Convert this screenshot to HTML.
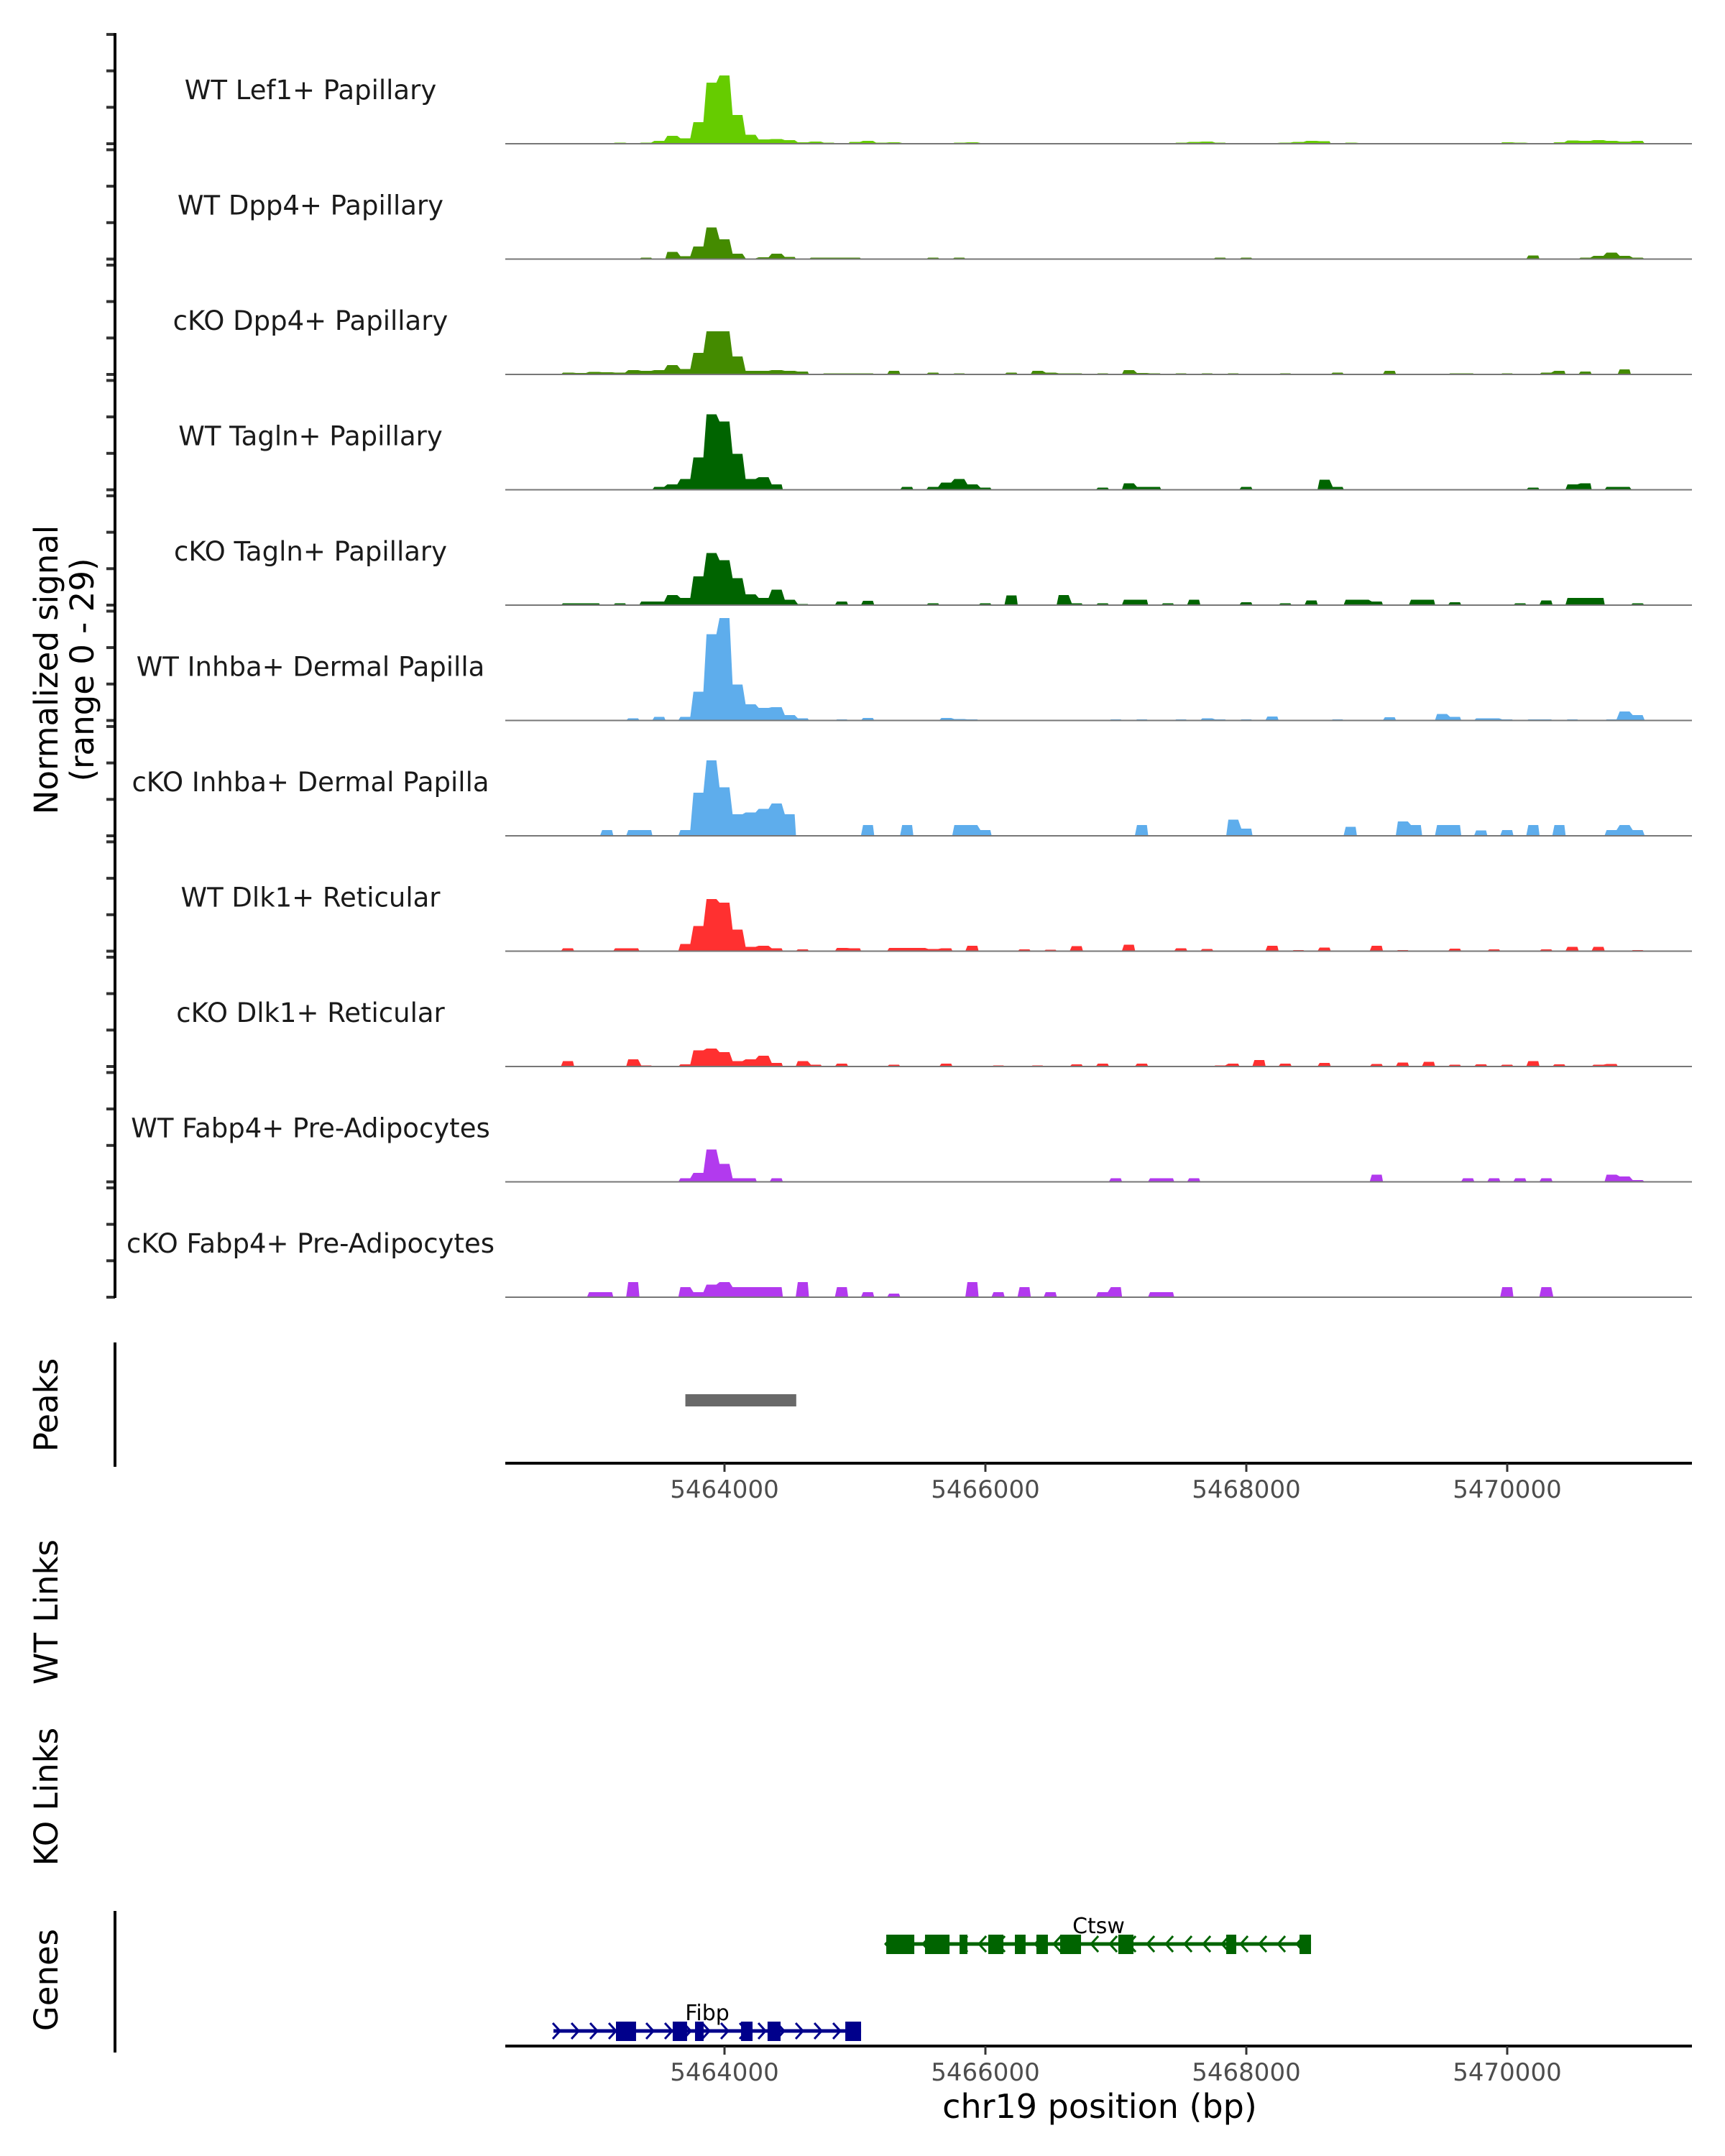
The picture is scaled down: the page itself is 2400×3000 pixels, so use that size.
<!DOCTYPE html>
<html><head><meta charset="utf-8"><style>
html,body{margin:0;padding:0;background:#fff}
svg{display:block}
text{font-family:"DejaVu Sans","Liberation Sans",sans-serif}
</style></head><body>
<svg id="chart" width="2400" height="3000" viewBox="0 0 2400 3000" xmlns="http://www.w3.org/2000/svg">
<g id="tracks"></g>
<g id="axes"></g>
<g id="genes"></g>
</svg>
<script>
const trackNames = ["WT Lef1+ Papillary","WT Dpp4+ Papillary","cKO Dpp4+ Papillary","WT Tagln+ Papillary","cKO Tagln+ Papillary","WT Inhba+ Dermal Papilla","cKO Inhba+ Dermal Papilla","WT Dlk1+ Reticular","cKO Dlk1+ Reticular","WT Fabp4+ Pre-Adipocytes","cKO Fabp4+ Pre-Adipocytes"];
const trackColors = ["#66CC00","#448B00","#448B00","#006400","#006400","#5EADEC","#5EADEC","#FF3030","#FF3030","#B23AEE","#B23AEE"];
const binStart = 5462650;
const binSize = 100;
// sparse signal values: [binIndex, value] pairs per track (bins of 100bp)
const sigLef1 = [[0,.1],[1,.2],[2,.1],[3,.2],[4,.1],[5,.3],[6,.1],[7,.3],[8,.8],[9,2.2],[10,1.5],[11,6],[12,17],[13,19],[14,8],[15,2.5],[16,1.2],[17,1.3],[18,1],[19,.4],[20,.6],[21,.3],[23,.5],[24,.8],[25,.3],[26,.4],[27,.2],[29,.2],[31,.3],[32,.4],[33,.2],[34,.2],[36,.2],[37,.2],[48,.3],[49,.5],[50,.6],[51,.3],[54,.2],[55,.2],[56,.3],[57,.5],[58,.8],[59,.7],[61,.3],[62,.2],[64,.2],[66,.2],[73,.4],[74,.3],[75,.2],[77,.4],[78,.9],[79,.8],[80,1],[81,.8],[82,.6],[83,.8]];
const sigDpp4WT = [[7,.4],[9,2],[10,.8],[11,3.5],[12,8.8],[13,5.5],[14,1.5],[15,.2],[16,.5],[17,1.5],[18,.6],[20,.4],[21,.4],[22,.4],[23,.4],[29,.4],[31,.4],[51,.4],[53,.4],[75,1],[79,.4],[80,.9],[81,1.8],[82,.9],[83,.4]];
const sigDpp4KO = [[1,.5],[2,.4],[3,.7],[4,.6],[5,.5],[6,1.2],[7,1],[8,1.2],[9,2.6],[10,1.5],[11,6],[12,12],[13,12],[14,5],[15,1],[16,1],[17,1.2],[18,1],[19,.8],[21,.3],[22,.3],[23,.3],[24,.3],[26,1],[29,.5],[31,.3],[35,.5],[37,1],[38,.5],[39,.3],[40,.3],[42,.3],[44,1.2],[45,.4],[46,.3],[48,.3],[50,.3],[52,.3],[56,.3],[60,.5],[64,1],[69,.3],[70,.3],[73,.3],[76,.5],[77,1],[79,.8],[82,1.4],[84,.2]];
const sigTaglnWT = [[8,.8],[9,1.5],[10,3],[11,9],[12,21],[13,19],[14,10],[15,3],[16,3.5],[17,1.5],[27,.8],[29,.8],[30,2],[31,3],[32,1.5],[33,.6],[42,.6],[44,1.8],[45,.8],[46,.8],[53,.8],[59,2.8],[60,.8],[75,.6],[78,1.5],[79,1.8],[81,.8],[82,.8]];
const sigTaglnKO = [[1,.5],[2,.5],[3,.5],[5,.5],[7,1],[8,1],[9,2.8],[10,2],[11,8],[12,14.5],[13,12.5],[14,7.5],[15,3],[16,2],[17,4.3],[18,1.5],[19,.3],[22,1],[24,1.2],[29,.5],[33,.5],[35,2.7],[39,2.8],[40,.5],[42,.5],[44,1.5],[45,1.5],[47,.5],[49,1.5],[53,.8],[56,.5],[58,1.3],[61,1.5],[62,1.5],[63,1],[66,1.5],[67,1.5],[69,.8],[74,.5],[76,1.3],[78,2],[79,2],[80,2],[83,.5]];
const sigInhbaWT = [[6,.6],[8,1],[10,1],[11,8],[12,24],[13,28.5],[14,10],[15,4.5],[16,3.5],[17,3.7],[18,1.5],[19,.6],[22,.3],[24,.7],[30,.7],[31,.4],[32,.3],[43,.3],[45,.3],[48,.3],[50,.6],[51,.3],[53,.3],[55,1.1],[60,.3],[64,.9],[68,1.8],[69,1],[71,.6],[72,.6],[73,.3],[75,.3],[76,.3],[78,.3],[81,.3],[82,2.5],[83,1.5]];
const sigInhbaKO = [[4,1.6],[6,1.6],[7,1.6],[10,1.6],[11,12],[12,21],[13,13.5],[14,6],[15,6.5],[16,7.5],[17,9],[18,6],[24,3],[27,3],[31,3],[32,3],[33,1.6],[45,3],[52,4.5],[53,2],[61,2.5],[65,4],[66,3],[68,3],[69,3],[71,1.5],[73,1.6],[75,3],[77,3],[81,1.6],[82,3],[83,1.6]];
const sigDlk1WT = [[1,.8],[5,.8],[6,.8],[10,2],[11,7],[12,14.5],[13,13.5],[14,6],[15,1.2],[16,1.5],[17,.8],[19,.5],[22,.9],[23,.8],[26,.9],[27,.9],[28,.9],[29,.6],[30,.8],[32,1.5],[36,.5],[38,.4],[40,1.4],[44,1.8],[48,.8],[50,.6],[55,1.5],[57,.3],[59,1],[63,1.5],[65,.3],[69,.7],[72,.5],[76,.5],[78,1.2],[80,1.2],[83,.3]];
const sigDlk1KO = [[1,1.5],[6,2],[7,.3],[10,.6],[11,4.5],[12,5],[13,4],[14,1.5],[15,2],[16,3],[17,1],[19,1.5],[20,.5],[22,.8],[26,.5],[30,.8],[34,.3],[37,.3],[40,.6],[42,.8],[45,.8],[51,.3],[52,.8],[54,1.8],[56,.8],[59,1],[63,.7],[65,1.1],[67,1.3],[69,.5],[71,.6],[73,.5],[75,1.5],[77,.6],[80,.5],[81,.7],[83,.2]];
const sigFabp4WT = [[10,1],[11,2.5],[12,9],[13,5],[14,1],[15,1],[17,1],[43,1],[46,1],[47,1],[49,1],[63,2],[70,1],[72,1],[74,1],[76,1],[81,2],[82,1.5],[83,.5]];
const sigFabp4KO = [[3,1.4],[4,1.4],[6,4.2],[10,2.8],[11,1.4],[12,3.5],[13,4.2],[14,2.8],[15,2.8],[16,2.8],[17,2.8],[19,4.2],[22,2.8],[24,1.4],[26,1],[32,4.2],[34,1.4],[36,2.8],[38,1.4],[42,1.4],[43,2.8],[46,1.4],[47,1.4],[73,2.8],[76,2.8]];
const trackSignals = [sigLef1,sigDpp4WT,sigDpp4KO,sigTaglnWT,sigTaglnKO,sigInhbaWT,sigInhbaKO,sigDlk1WT,sigDlk1KO,sigFabp4WT,sigFabp4KO];
const xTicks = [5464000,5466000,5468000,5470000];
const peakRegions = [[5463700,5464550]];
const geneCtsw = {name:"Ctsw",start:5465240,end:5468496,strand:-1,exons:[[5465240,5465455],[5465537,5465725],[5465802,5465862],[5466022,5466138],[5466226,5466308],[5466391,5466479],[5466573,5466733],[5467019,5467135],[5467846,5467923],[5468408,5468496]]};
const geneFibp = {name:"Fibp",start:5462689,end:5465047,strand:1,exons:[[5463168,5463322],[5463603,5463713],[5463774,5463840],[5464127,5464215],[5464330,5464430],[5464926,5465047]]};

const NS="http://www.w3.org/2000/svg";
const X0=703, X1=2354;
function xs(bp){return 1008+(bp-5464000)*0.1815;}
const trackTop0=200, trackStep=160.5, pxPerUnit=5;
function ys(i,v){return trackTop0+i*trackStep - v*pxPerUnit;}
function mk(tag,attrs,parent){const e=document.createElementNS(NS,tag);for(const k in attrs)e.setAttribute(k,attrs[k]);parent.appendChild(e);return e;}
const gT=document.getElementById('tracks'), gA=document.getElementById('axes'), gG=document.getElementById('genes');

trackNames.forEach((nm,i)=>{
  const base=ys(i,0);
  const g=mk('g',{},gT);
  
  
  const sig=trackSignals[i];
  let d='';
  let prevK=-10;
  sig.forEach(([k,v])=>{
    const a=xs(binStart+k*binSize+12), b=xs(binStart+(k+1)*binSize-12);
    if(k!==prevK+1){ if(d) d+=`L${xs(binStart+(prevK+1)*binSize-12+10).toFixed(1)},${base}Z`; d+=`M${(a-3).toFixed(1)},${base}`; }
    d+=`L${a.toFixed(1)},${ys(i,v).toFixed(1)}L${b.toFixed(1)},${ys(i,v).toFixed(1)}`;
    prevK=k;
  });
  d+=`L${(xs(binStart+(prevK+1)*binSize-12)+3).toFixed(1)},${base}Z`;
  const p=mk('path',{d:d,fill:trackColors[i]},g);
  
  
  const bl=mk('line',{x1:X0,x2:X1,y1:base,y2:base,stroke:'#777','stroke-width':2},g);
  
  
  const t=mk('text',{x:432,y:base-62,'text-anchor':'middle','font-size':37,fill:'#1a1a1a'},g);
  t.textContent=nm;
  
  
  for(let j=0;j<4;j++){
    const ty=base-j*50.7;
    const tk=mk('line',{x1:148,x2:160,y1:ty,y2:ty,stroke:'#333','stroke-width':4},gA);
    
    
  }
});
function axLine(y1,y2,name){const l=mk('line',{x1:160,x2:160,y1:y1,y2:y2,stroke:'#000','stroke-width':4},gA);}
axLine(46,1806,'signal-y-axis');
axLine(1868,2041,'peaks-y-axis');
axLine(2659,2856,'genes-y-axis');
function rotText(x,y,s,name,size){const t=mk('text',{x:x,y:y,transform:`rotate(-90 ${x} ${y})`,'text-anchor':'middle','font-size':size||45,fill:'#000'},gA);t.textContent=s;}
rotText(80,932,'Normalized signal','y-axis-title');
rotText(130,932,'(range 0 - 29)','y-axis-subtitle');
rotText(80,1955,'Peaks','peaks-label');
rotText(80,2243,'WT Links','wt-links-label');
rotText(80,2500,'KO Links','ko-links-label');
rotText(80,2755,'Genes','genes-label');
peakRegions.forEach(([s,e])=>{
  const r=mk('rect',{x:xs(s),y:1940,width:xs(e)-xs(s),height:17,fill:'#696969'},gA);
  
  
});
function xAxis(y,name){
  const l=mk('line',{x1:X0,x2:X1,y1:y,y2:y,stroke:'#000','stroke-width':4},gA);
  
  
  xTicks.forEach(v=>{
    const tk=mk('line',{x1:xs(v),x2:xs(v),y1:y,y2:y+12,stroke:'#333','stroke-width':3},gA);
    
    
    const t=mk('text',{x:xs(v),y:y+48,'text-anchor':'middle','font-size':34,fill:'#4d4d4d'},gA);
    t.textContent=v;
    
    
  });
}
xAxis(2036,'peaks-x-axis');
xAxis(2847,'genes-x-axis');
const xt=mk('text',{x:1530,y:2947,'text-anchor':'middle','font-size':46,fill:'#000'},gA);
xt.textContent='chr19 position (bp)';



function drawGene(gene,y,color){
  const g=mk('g',{},gG);
  
  
  mk('line',{x1:xs(gene.start),x2:xs(gene.end),y1:y,y2:y,stroke:color,'stroke-width':5},g);
  for(let x=xs(gene.start)+4;x<xs(gene.end)-4;x+=26){
    const dx=gene.strand>0?5:-5;
    mk('polyline',{points:`${x-dx},${y-11} ${x+dx},${y} ${x-dx},${y+11}`,fill:'none',stroke:color,'stroke-width':3},g);
  }
  gene.exons.forEach(([s,e])=>{
    const r=mk('rect',{x:xs(s),y:y-13,width:Math.max(8,xs(e)-xs(s)),height:27,fill:color},g);
    
    
  });
  const t=mk('text',{x:(xs(gene.start)+xs(gene.end))/2,y:y-15,'text-anchor':'middle','font-size':30,fill:'#000'},g);
  t.textContent=gene.name;
  
  
}
drawGene(geneCtsw,2705,'#006400');
drawGene(geneFibp,2826,'#00008B');
</script>
</body></html>
